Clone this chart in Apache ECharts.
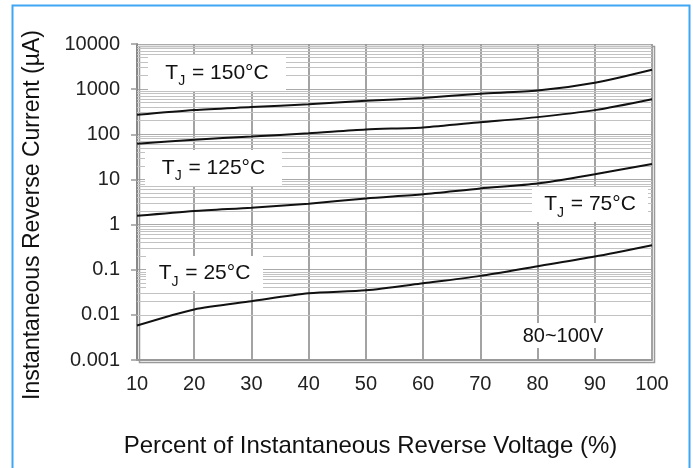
<!DOCTYPE html>
<html>
<head>
<meta charset="utf-8">
<script src="https://cdn.jsdelivr.net/npm/echarts@6/dist/echarts.min.js"></script>
<style>
html,body{margin:0;padding:0;background:#fff;}
#chart{width:693px;height:468px;}
</style>
</head>
<body>
<div id="chart"></div>
<script>
// Data (percent of reverse voltage vs reverse current in µA)
const voltagePct = [10, 20, 30, 40, 50, 60, 70, 80, 90, 100];
const tj150 = [270, 345, 400, 465, 550, 640, 790, 930, 1390, 2700];
const tj125 = [62, 76, 89, 105, 128, 142, 185, 240, 343, 600];
const tj75  = [1.56, 2.0, 2.37, 2.9, 3.8, 4.7, 6.3, 8.1, 13, 22];
const tj25  = [0.0058, 0.0132, 0.02, 0.03, 0.035, 0.05, 0.073, 0.12, 0.196, 0.35];
const yTickLabels = ['0.001', '0.01', '0.1', '1', '10', '100', '1000', '10000'];
const xTickLabels = ['10', '20', '30', '40', '50', '60', '70', '80', '90', '100'];
const curveNames = ['TJ = 150°C', 'TJ = 125°C', 'TJ = 75°C', 'TJ = 25°C'];
const boxLabels = [
  { main: 'T', sub: 'J', rest: ' = 150°C' },
  { main: 'T', sub: 'J', rest: ' = 125°C' },
  { main: 'T', sub: 'J', rest: ' = 75°C' },
  { main: 'T', sub: 'J', rest: ' = 25°C' }
];
const rangeLabel = '80~100V';

const FONT = '"Liberation Sans", Arial, sans-serif';
const decades = yTickLabels.map(Number);
const minorMult = [2, 3, 4, 5, 6, 7, 8, 9];
const minorLines = [];
decades.slice(0, -1).forEach(d => minorMult.forEach(m => minorLines.push({ yAxis: d * m })));

function pair(arr) { return voltagePct.map((v, i) => [v, arr[i]]); }

function curve(name, arr) {
  return {
    name: name, type: 'line', data: pair(arr), showSymbol: false, smooth: 0.25,
    lineStyle: { color: '#111', width: 2 }, z: 5, silent: true
  };
}

function labelBox(x, y, w, h, lab) {
  return {
    type: 'group', left: x, top: y, z: 100,
    children: [
      { type: 'rect', z: 100, shape: { x: 0, y: 0, width: w, height: h }, style: { fill: '#fff' } },
      { type: 'text', z: 101,
        style: {
          text: '{a|' + lab.main + '}{b|' + lab.sub + '}{a|' + lab.rest + '}',
          rich: {
            a: { fontSize: 21, fontFamily: FONT, fill: '#111', verticalAlign: 'bottom' },
            b: { fontSize: 14, fontFamily: FONT, fill: '#111', verticalAlign: 'bottom', padding: [0, 1, -5, 0] }
          },
          x: w / 2, y: h / 2, align: 'center', verticalAlign: 'middle'
        }
      }
    ]
  };
}

const chart = echarts.init(document.getElementById('chart'), null, { renderer: 'canvas' });
chart.setOption({
  animation: false,
  backgroundColor: '#fff',
  grid: { left: 137, right: 41, top: 44, bottom: 108, show: false },
  xAxis: {
    type: 'value', min: 10, max: 100, interval: 10,
    name: 'Percent of Instantaneous Reverse Voltage (%)',
    nameLocation: 'middle', nameGap: 74,
    nameTextStyle: { fontSize: 24, fontFamily: FONT, color: '#111', padding: [0, 48, 0, 0] },
    axisLine: { show: true, lineStyle: { color: '#999', width: 2 } },
    axisTick: { show: false },
    axisLabel: { fontSize: 20, fontFamily: FONT, color: '#222', margin: 14,
      formatter: v => xTickLabels[voltagePct.indexOf(v)] ?? '' },
    splitLine: { show: true, lineStyle: { color: '#999', width: 1.8 } }
  },
  yAxis: {
    type: 'log', logBase: 10, min: 0.001, max: 10000,
    name: 'Instantaneous Reverse Current (µA)',
    nameLocation: 'middle', nameGap: 93,
    nameTextStyle: { fontSize: 23, fontFamily: FONT, color: '#111', padding: [0, 26, 0, 0] },
    axisLine: { show: true, lineStyle: { color: '#888', width: 2 } },
    axisTick: { show: true, length: 6, lineStyle: { color: '#999', width: 1.5 } },
    axisLabel: { fontSize: 20, fontFamily: FONT, color: '#222', margin: 17,
      formatter: v => { const i = decades.findIndex(d => Math.abs(d - v) / d < 1e-6); return i >= 0 ? yTickLabels[i] : ''; } },
    splitLine: { show: true, lineStyle: { color: '#aaa', width: 1.2 } }
  },
  series: [
    {
      type: 'line', data: [], silent: true, z: 1,
      markLine: { silent: true, symbol: 'none', animation: false,
        label: { show: false },
        lineStyle: { color: '#c2c2c2', width: 1.2, type: 'solid' },
        data: minorLines }
    },
    curve(curveNames[0], tj150),
    curve(curveNames[1], tj125),
    curve(curveNames[2], tj75),
    curve(curveNames[3], tj25)
  ],
  graphic: [
    { type: 'rect', left: 10, top: 3, z: 200, silent: true,
      shape: { x: 0, y: 0, width: 677, height: 475 },
      style: { fill: null, stroke: '#3ea6f2', lineWidth: 2 } },
    { type: 'rect', left: 137, top: 44, z: 3, silent: true,
      shape: { x: 0, y: 0, width: 515, height: 316 },
      style: { fill: null, stroke: '#999', lineWidth: 1.5 } },
    labelBox(148, 55, 138, 36, boxLabels[0]),
    labelBox(145, 150, 137, 36, boxLabels[1]),
    labelBox(532, 187, 116, 35, boxLabels[2]),
    labelBox(146, 256, 117, 35, boxLabels[3]),
    { type: 'group', left: 492, top: 323, z: 100, children: [
      { type: 'rect', z: 100, shape: { x: 0, y: 0, width: 143, height: 25 }, style: { fill: '#fff' } },
      { type: 'text', z: 101, style: { text: rangeLabel, x: 71, y: 13, align: 'center', verticalAlign: 'middle',
        fontSize: 20, fontFamily: FONT, fill: '#111' } }
    ] }
  ]
});
</script>
</body>
</html>
